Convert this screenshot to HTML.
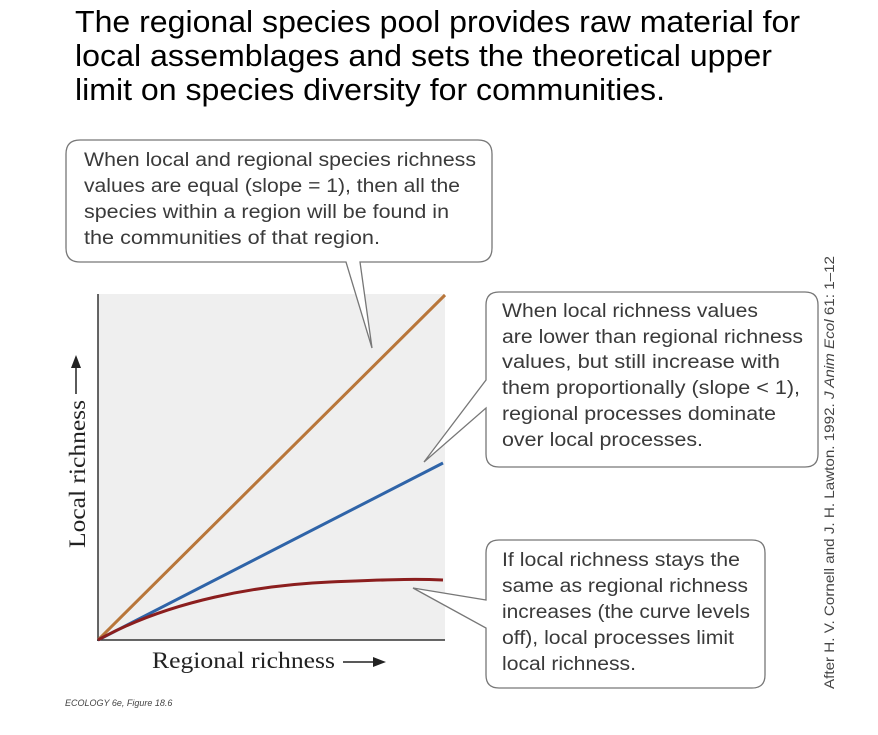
<!DOCTYPE html>
<html><head><meta charset="utf-8"><style>
html,body{margin:0;padding:0;background:#fff;}
body{width:878px;height:735px;position:relative;overflow:hidden;font-family:"Liberation Sans",sans-serif;}
.t{font-family:"Liberation Sans",sans-serif;font-size:19px;fill:#3a3a3a;}
.h{font-family:"Liberation Sans",sans-serif;font-size:31px;fill:#000;}
</style></head><body>
<svg width="878" height="735" style="position:absolute;left:0;top:0">
<text class="h" x="75" y="32" textLength="725" lengthAdjust="spacingAndGlyphs">The regional species pool provides raw material for</text>
<text class="h" x="75" y="66" textLength="697" lengthAdjust="spacingAndGlyphs">local assemblages and sets the theoretical upper</text>
<text class="h" x="75" y="100" textLength="590" lengthAdjust="spacingAndGlyphs">limit on species diversity for communities.</text>
<rect x="98" y="294" width="347" height="346" fill="#efefef"/>
<line x1="98" y1="294" x2="98" y2="641" stroke="#333" stroke-width="1.5"/>
<line x1="97" y1="640" x2="445" y2="640" stroke="#333" stroke-width="1.5"/>
<line x1="98" y1="640" x2="445" y2="295" stroke="#b8763a" stroke-width="3"/>
<line x1="98" y1="640" x2="443" y2="463" stroke="#2f64a8" stroke-width="3"/>
<path d="M98,640 C170,600 260,585 330,582 S420,579 443,580" fill="none" stroke="#8b1e1e" stroke-width="3"/>
<text transform="translate(85,548) rotate(-90)" font-family="Liberation Serif,serif" font-size="23" fill="#222" textLength="148" lengthAdjust="spacingAndGlyphs">Local richness</text>
<line x1="76" y1="394" x2="76" y2="366" stroke="#222" stroke-width="1.5"/>
<path d="M76,355 L71,368 L81,368 Z" fill="#222"/>
<text x="152" y="668" font-family="Liberation Serif,serif" font-size="23" fill="#222" textLength="183" lengthAdjust="spacingAndGlyphs">Regional richness</text>
<line x1="343" y1="662" x2="374" y2="662" stroke="#222" stroke-width="1.5"/>
<path d="M386,662 L373,657 L373,667 Z" fill="#222"/>
<text x="65" y="706" font-family="Liberation Sans,sans-serif" font-style="italic" font-size="9" fill="#444">ECOLOGY 6e, Figure 18.6</text>
<path d="M80,140 H478 Q492,140 492,154 V248 Q492,262 478,262 H360 L372,348 L346,262 H80 Q66,262 66,248 V154 Q66,140 80,140 Z" fill="#fff" stroke="#777" stroke-width="1.3"/>
<text class="t" x="84" y="166" textLength="392" lengthAdjust="spacingAndGlyphs">When local and regional species richness</text>
<text class="t" x="84" y="192" textLength="376" lengthAdjust="spacingAndGlyphs">values are equal (slope = 1), then all the</text>
<text class="t" x="84" y="218" textLength="365" lengthAdjust="spacingAndGlyphs">species within a region will be found in</text>
<text class="t" x="84" y="244" textLength="296" lengthAdjust="spacingAndGlyphs">the communities of that region.</text>
<path d="M499,292 H805 Q818,292 818,305 V454 Q818,467 805,467 H499 Q486,467 486,454 V408 L424,462 L486,380 V305 Q486,292 499,292 Z" fill="#fff" stroke="#777" stroke-width="1.3"/>
<text class="t" x="502" y="317" textLength="256" lengthAdjust="spacingAndGlyphs">When local richness values</text>
<text class="t" x="502" y="343" textLength="301" lengthAdjust="spacingAndGlyphs">are lower than regional richness</text>
<text class="t" x="502" y="368" textLength="278" lengthAdjust="spacingAndGlyphs">values, but still increase with</text>
<text class="t" x="502" y="394" textLength="298" lengthAdjust="spacingAndGlyphs">them proportionally (slope &lt; 1),</text>
<text class="t" x="502" y="420" textLength="274" lengthAdjust="spacingAndGlyphs">regional processes dominate</text>
<text class="t" x="502" y="446" textLength="201" lengthAdjust="spacingAndGlyphs">over local processes.</text>
<path d="M499,540 H752 Q765,540 765,553 V675 Q765,688 752,688 H499 Q486,688 486,675 V628 L413,588 L486,600 V553 Q486,540 499,540 Z" fill="#fff" stroke="#777" stroke-width="1.3"/>
<text class="t" x="502" y="566" textLength="238" lengthAdjust="spacingAndGlyphs">If local richness stays the</text>
<text class="t" x="502" y="592" textLength="246" lengthAdjust="spacingAndGlyphs">same as regional richness</text>
<text class="t" x="502" y="618" textLength="248" lengthAdjust="spacingAndGlyphs">increases (the curve levels</text>
<text class="t" x="502" y="644" textLength="232" lengthAdjust="spacingAndGlyphs">off), local processes limit</text>
<text class="t" x="502" y="670" textLength="134" lengthAdjust="spacingAndGlyphs">local richness.</text>
<text transform="translate(834,689) rotate(-90)" font-family="Liberation Sans,sans-serif" font-size="14" fill="#444" textLength="433" lengthAdjust="spacingAndGlyphs">After H. V. Cornell and J. H. Lawton. 1992. <tspan font-style="italic">J Anim Ecol</tspan> 61: 1–12</text>
</svg>
</body></html>
